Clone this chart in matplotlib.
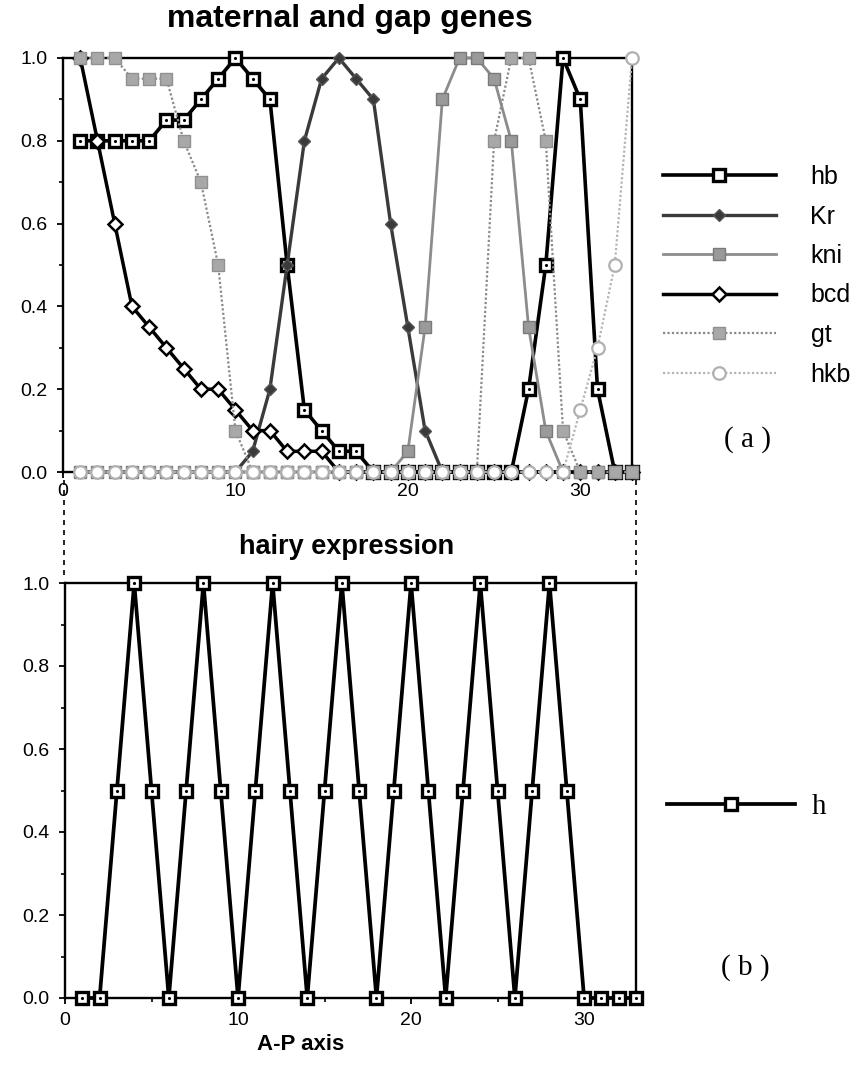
import numpy as np
import matplotlib.pyplot as plt
from matplotlib.lines import Line2D
from matplotlib.ticker import MultipleLocator

plt.rcParams['font.family'] = ['Liberation Sans', 'DejaVu Sans']

# A-P positions (cells 1..33)
pos = np.arange(1, 34)

# maternal and gap genes
hb = [0.8, 0.8, 0.8, 0.8, 0.8, 0.85, 0.85, 0.9, 0.95, 1.0, 0.95, 0.9, 0.5, 0.15, 0.1, 0.05, 0.05,
      0, 0, 0, 0, 0, 0, 0, 0, 0, 0.2, 0.5, 1.0, 0.9, 0.2, 0, 0]
Kr = [0, 0, 0, 0, 0, 0, 0, 0, 0, 0, 0.05, 0.2, 0.5, 0.8, 0.95, 1.0, 0.95, 0.9, 0.6, 0.35, 0.1,
      0, 0, 0, 0, 0, 0, 0, 0, 0, 0, 0, 0]
kni = [0, 0, 0, 0, 0, 0, 0, 0, 0, 0, 0, 0, 0, 0, 0, 0, 0, 0, 0, 0.05, 0.35, 0.9, 1.0, 1.0, 0.95,
       0.8, 0.35, 0.1, 0, 0, 0, 0, 0]
bcd = [1.0, 0.8, 0.6, 0.4, 0.35, 0.3, 0.25, 0.2, 0.2, 0.15, 0.1, 0.1, 0.05, 0.05, 0.05,
       0, 0, 0, 0, 0, 0, 0, 0, 0, 0, 0, 0, 0, 0, 0, 0, 0, 0]
gt = [1.0, 1.0, 1.0, 0.95, 0.95, 0.95, 0.8, 0.7, 0.5, 0.1, 0, 0, 0, 0, 0, 0, 0, 0, 0, 0, 0, 0,
      0, 0, 0.8, 1.0, 1.0, 0.8, 0.1, 0, 0, 0, 0]
hkb = [0] * 29 + [0.15, 0.3, 0.5, 1.0]

# hairy expression
h = [0, 0, 0.5, 1.0, 0.5, 0, 0.5, 1.0, 0.5, 0, 0.5, 1.0, 0.5, 0, 0.5, 1.0, 0.5, 0,
     0.5, 1.0, 0.5, 0, 0.5, 1.0, 0.5, 0, 0.5, 1.0, 0.5, 0, 0, 0, 0]

W, H = 859, 1079
fig = plt.figure(figsize=(W / 100, H / 100), dpi=100)


def box(l, t, r, b):
    # pixel box -> figure fraction
    return [l / W, 1 - b / H, (r - l) / W, (b - t) / H]


def style_axis(ax):
    ax.set_xlim(0, 33)
    ax.set_ylim(0, 1.0)
    ax.xaxis.set_major_locator(MultipleLocator(10))
    ax.xaxis.set_minor_locator(MultipleLocator(5))
    ax.yaxis.set_major_locator(MultipleLocator(0.2))
    ax.yaxis.set_minor_locator(MultipleLocator(0.1))
    ax.yaxis.set_major_formatter(plt.FormatStrFormatter('%.1f'))
    for s in ax.spines.values():
        s.set_linewidth(1.7)
    ax.tick_params(which='major', direction='out', length=4, width=1.3, labelsize=14, pad=4)
    ax.tick_params(which='minor', direction='out', length=3, width=1.2)
    ax.tick_params(axis='y', which='major', pad=7)


ax1 = fig.add_axes(box(63, 58, 632, 472))
style_axis(ax1)

l_hb, = ax1.plot(pos, hb, color='black', lw=2.6, marker='s', ms=8.5, mfc='white', mec='black',
                 mew=2.4, clip_on=False, zorder=3, label='hb')
ax1.plot(pos, hb, ls='none', marker='.', ms=2.5, color='black', clip_on=False, zorder=3.1)
l_kr, = ax1.plot(pos, Kr, color='#3a3a3a', lw=2.4, marker='D', ms=6.5, mfc='#3a3a3a', mec='#555555',
                 mew=1, clip_on=False, zorder=4, label='Kr')
l_kni, = ax1.plot(pos, kni, color='#8c8c8c', lw=2.0, marker='s', ms=8.5, mfc='#9a9a9a', mec='#7a7a7a',
                  mew=1, clip_on=False, zorder=5, label='kni')
l_bcd, = ax1.plot(pos, bcd, color='black', lw=2.5, marker='D', ms=7, mfc='white', mec='black',
                  mew=1.8, clip_on=False, zorder=6, label='bcd')
l_gt, = ax1.plot(pos, gt, color='#8a8a8a', lw=1.6, ls=(0, (1, 1)), marker='s', ms=8.5, mfc='#a8a8a8',
                 mec='#909090', mew=1, clip_on=False, zorder=7, label='gt')
l_hkb, = ax1.plot(pos, hkb, color='#b4b4b4', lw=1.6, ls=(0, (1, 1)), marker='o', ms=9, mfc='white',
                  mec='#b0b0b0', mew=1.6, clip_on=False, zorder=8, label='hkb')

fig.text(350 / W, 1 - 19 / H, 'maternal and gap genes', ha='center', va='center',
         fontsize=23, fontweight='bold')

fig.legend(handles=[l_hb, l_kr, l_kni, l_bcd, l_gt, l_hkb], loc='upper left',
           bbox_to_anchor=(663 / W, 1 - 165 / H), frameon=False, fontsize=18,
           handlelength=4.5, handletextpad=1.4, labelspacing=0.62, borderpad=0,
           borderaxespad=0, numpoints=1)
fig.text(748 / W, 1 - 440 / H, '( a )', ha='center', va='center', fontsize=21,
         family=['Liberation Serif', 'DejaVu Serif'])

ax2 = fig.add_axes(box(65, 583, 636, 998))
style_axis(ax2)
l_h, = ax2.plot(pos, h, color='black', lw=2.7, marker='s', ms=8.5, mfc='white', mec='black',
                mew=2.4, clip_on=False, zorder=3, label='h')
ax2.plot(pos, h, ls='none', marker='.', ms=2.5, color='black', clip_on=False, zorder=3.1)
ax2.tick_params(axis='x', which='major', pad=6)

fig.text(347 / W, 1 - 547 / H, 'hairy expression', ha='center', va='center',
         fontsize=19.5, fontweight='bold')
fig.text(301 / W, 1 - 1044 / H, 'A-P axis', ha='center', va='center',
         fontsize=16, fontweight='bold')

fig.legend(handles=[l_h], loc='upper left', bbox_to_anchor=(667 / W, 1 - 794 / H),
           frameon=False, prop={'family': ['Liberation Serif', 'DejaVu Serif'], 'size': 21},
           handlelength=4.4, handletextpad=0.55, borderpad=0, borderaxespad=0, numpoints=1)
fig.text(745 / W, 1 - 968 / H, '( b )', ha='center', va='center', fontsize=21,
         family=['Liberation Serif', 'DejaVu Serif'])

# dashed connectors between the two panels
for xp in (64, 636):
    fig.add_artist(Line2D([xp / W, xp / W], [1 - 480 / H, 1 - 580 / H], color='black',
                          lw=1.2, ls=(0, (3, 3))))

fig.savefig('out.png', dpi=100)
